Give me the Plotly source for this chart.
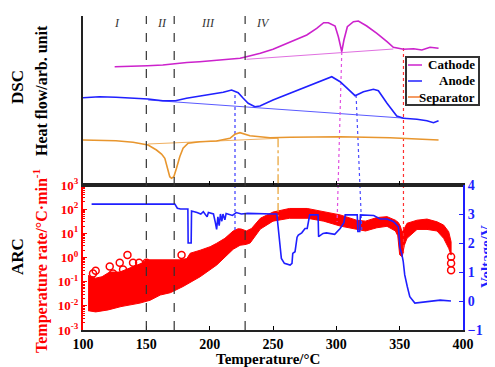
import plotly.graph_objects as go

# ---------------- DATA ----------------
# DSC (arbitrary heat-flow units)
cathode_T = [125, 135, 151, 163, 173, 182, 192, 203, 213.5, 224, 229, 240, 250, 263, 276.7, 284.5, 290, 293.7, 299, 301.6,
             304.3, 306, 308.7, 313.5, 317.4, 324, 332, 340, 345, 353, 361, 367.5, 374, 380.7]
cathode_h = [11.83, 11.85, 11.93, 12.0, 12.17, 12.25, 12.33, 12.45, 12.57, 12.67, 12.83, 13.17, 13.57, 14.23, 15.0, 15.67, 16.23,
             16.23, 15.9, 14.83, 13.33, 14.5, 15.83, 16.33, 16.4, 15.9, 15.17, 14.33, 13.77, 13.57, 13.63, 13.5, 13.77, 13.67]
cathode_base_T = [229, 345]
cathode_base_h = [12.57, 13.6]

anode_T = [100, 113, 126, 139.5, 151.4, 163, 173, 181.7, 192, 202.8, 210.7, 217.3, 222.5, 226.5, 230.4, 235.7, 239.7, 250,
           263.4, 276.6, 290, 296.4, 303, 308.2, 314.8, 321.4, 329.3, 333.2, 340, 347.7, 353, 363.6, 371.5, 376.7, 380.7]
anode_h = [8.73, 8.83, 8.77, 8.67, 8.6, 8.43, 8.43, 8.67, 8.9, 9.1, 9.27, 9.5, 9.23, 8.67, 8.17, 7.83, 7.9, 8.5,
           9.17, 9.9, 10.57, 10.83, 10.33, 9.67, 8.93, 9.33, 9.57, 9.43, 8.17, 6.9, 6.67, 6.57, 6.43, 6.23, 6.43]
anode_base_T = [151.4, 355]
anode_base_h = [8.5, 6.67]

separator_T = [100, 126, 139.5, 151.4, 158, 162, 164.6, 166.7, 168.5, 169.9, 171.7, 173.8, 176.4, 179, 183, 192.2, 205.4,
               216, 219.9, 223.9, 229, 231.8, 239.7, 247.6, 263.4, 303, 342.4, 380.7]
separator_h = [4.5, 4.43, 4.27, 4.0, 3.5, 3.1, 2.67, 1.67, 0.83, 0.67, 0.83, 1.67, 2.83, 3.67, 4.17, 4.33, 4.4,
               4.67, 5.07, 5.23, 5.0, 4.93, 4.83, 4.73, 4.77, 4.83, 4.73, 4.5]
separator_base_T = [151.4, 254]
separator_base_h = [4.1, 4.67]

# ARC self-heating rate (degC/min): envelope of the dense open-circle band
arc_upper_T = [104, 110, 115, 121, 129, 137, 147, 150, 176, 182, 184.6, 192.5, 200.4, 205.6, 212, 218.6, 222.5, 225,
               229, 233, 240, 250, 263, 277, 290, 303, 316, 323, 332, 340, 346.6, 349, 350.5, 352, 353.7, 355.8,
               363.7, 371.6, 379.5, 384.7, 388.7, 390.6]
arc_upper = [0.18, 0.14, 0.16, 0.25, 0.25, 0.36, 0.6, 0.8, 0.8, 0.9, 1.5, 2.0, 2.8, 3.9, 6.2, 12.6, 15.5, 15.0,
             12.6, 15.8, 42, 76, 107, 107, 79, 58, 35, 32, 45, 49, 35, 28, 20, 11, 16, 26,
             35, 39, 30, 22, 11.7, 4.5]
arc_lower_T = [104, 110, 120, 130, 145, 153, 161, 169, 179, 192.5, 205.6, 212, 218.6, 224, 229, 232, 240, 250, 263,
               277, 290, 303, 316, 323, 332, 340, 346.6, 348.5, 350, 352, 353.7, 355.8, 363.7, 371.6, 379.5, 384.7,
               388.7, 390.6]
arc_lower = [0.0063, 0.0056, 0.0068, 0.0093, 0.013, 0.017, 0.028, 0.035, 0.063, 0.16, 0.49, 1.0, 2.2, 3.2, 3.5, 4.0,
             15, 32, 42, 42, 32, 20, 14.5, 12.5, 17, 19.5, 12.5, 7.9, 1.3, 1.07, 3.2, 6.2, 14.5, 14.5, 12.5,
             6.2, 2.4, 1.26]
arc_circle_T = [107.9, 110, 121.1, 123.7, 129, 131.6, 135.1, 138.2, 139.5, 144.3, 146.2, 150.1, 177.8, 390.6, 390.6, 390.6]
arc_circle_rate = [0.22, 0.28, 0.42, 0.22, 0.61, 0.32, 1.26, 0.22, 0.61, 0.61, 0.30, 0.61, 1.26, 1.07, 0.58, 0.30]

# Cell voltage (V)
volt_T = [106.8, 172.5, 174.5, 177, 182.8, 183.0, 185.4, 185.7, 190, 193, 195, 198, 199, 203, 204.5, 205.5, 206.5,
          207.5, 208.5, 209.6, 210.5, 212, 213, 218, 221, 225, 230, 240, 250, 253, 254, 256.6, 259, 263.5, 265,
          265.6, 267.4, 269, 270, 272.7, 275.3, 277, 279, 285.6, 286, 289.5, 292.2, 298.7, 303, 306, 307, 316.5,
          317, 318.5, 319, 329.5, 334.7, 340, 345, 349, 350.3, 351.6, 352.8, 354, 356, 358, 362, 366, 371.6, 382, 390.5]
volt_V = [3.34, 3.34, 3.2, 3.17, 3.17, 2.0, 2.0, 3.1, 3.05, 3.0, 3.08, 2.9, 3.05, 3.0, 2.7, 2.47, 2.9,
          2.6, 3.0, 2.75, 3.0, 2.8, 3.02, 2.95, 3.05, 3.0, 3.02, 3.0, 3.0, 3.0, 2.5, 1.47, 1.3, 1.24, 1.3,
          1.64, 1.7, 2.2, 2.27, 2.35, 2.5, 2.5, 2.97, 2.97, 2.22, 2.33, 2.35, 2.3, 2.5, 2.7, 2.97, 2.97,
          2.4, 2.4, 2.97, 2.95, 2.83, 2.83, 2.74, 2.56, 1.82, 1.64, 1.37, 0.9, 0.5, 0.15, -0.07, -0.05, 0.0, 0.03, 0.0]

# Connectors between DSC features and ARC curve: (T at DSC, T at panel boundary, T at ARC)
conn_T_dsc = [220, 254, 304.3, 315.6, 353]
conn_T_mid = [220, 254, 301.4, 318.6, 353]
conn_T_arc = [220, 254, 300.6, 320.1, 353]
conn_h_dsc = [9.0, 4.67, 13.3, 9.0, 13.7]
conn_rate_arc = [11.2, 50, 30, 13.8, 1.5]
conn_colors = ["#3a3aff", "#e8a030", "#e050e0", "#4a4aff", "#ff3030"]
conn_dash = ["dot", "dashdot", "dot", "dot", "dot"]

region_bounds = [150, 172, 228]
region_labels = ["I", "II", "III", "IV"]
region_label_T = [127, 162, 199, 242]

legend_names = ["Cathode", "Anode", "Separator"]
legend_colors = ["#cc22cc", "#2020ff", "#f07a30"]

x_ticks = [100, 150, 200, 250, 300, 350, 400]
rate_tickvals = [1e-3, 1e-2, 1e-1, 1e0, 1e1, 1e2, 1e3]
rate_ticktext = ["10<sup>-3</sup>", "10<sup>-2</sup>", "10<sup>-1</sup>", "10<sup>0</sup>",
                 "10<sup>1</sup>", "10<sup>2</sup>", "10<sup>3</sup>"]

# ---------------- FIGURE ----------------
FONT = "Liberation Serif"
RED = "#ff0000"
BLUE = "#1f1fff"

fig = go.Figure()

# ARC band (fill between envelopes)
fig.add_trace(go.Scatter(
    x=arc_upper_T + arc_lower_T[::-1], y=arc_upper + arc_lower[::-1],
    mode="lines", fill="toself", fillcolor=RED, line=dict(color=RED, width=1),
    xaxis="x", yaxis="y", showlegend=False, hoverinfo="skip"))
fig.add_trace(go.Scatter(
    x=arc_circle_T, y=arc_circle_rate, mode="markers",
    marker=dict(symbol="circle-open", size=7, color=RED, line=dict(width=1.5, color=RED)),
    xaxis="x", yaxis="y", showlegend=False))

# connectors - ARC part
for i in range(len(conn_T_arc)):
    fig.add_trace(go.Scatter(
        x=[conn_T_mid[i], conn_T_arc[i]], y=[rate_tickvals[-1], conn_rate_arc[i]], mode="lines",
        line=dict(color=conn_colors[i], width=1.2, dash=conn_dash[i]),
        xaxis="x", yaxis="y", showlegend=False, hoverinfo="skip"))

# voltage
fig.add_trace(go.Scatter(x=volt_T, y=volt_V, mode="lines", line=dict(color=BLUE, width=1.6),
                         xaxis="x", yaxis="y3", showlegend=False))

# DSC part
fig.add_trace(go.Scatter(x=cathode_base_T, y=cathode_base_h, mode="lines",
                         line=dict(color="#e070e0", width=1), xaxis="x2", yaxis="y2", showlegend=False))
fig.add_trace(go.Scatter(x=anode_base_T, y=anode_base_h, mode="lines",
                         line=dict(color="#5a5aff", width=1), xaxis="x2", yaxis="y2", showlegend=False))
fig.add_trace(go.Scatter(x=separator_base_T, y=separator_base_h, mode="lines",
                         line=dict(color="#f0b060", width=1), xaxis="x2", yaxis="y2", showlegend=False))
for i in range(len(conn_T_dsc)):
    fig.add_trace(go.Scatter(
        x=[conn_T_dsc[i], conn_T_mid[i]], y=[conn_h_dsc[i], 0], mode="lines",
        line=dict(color=conn_colors[i], width=1.2, dash=conn_dash[i]),
        xaxis="x2", yaxis="y2", showlegend=False, hoverinfo="skip"))
fig.add_trace(go.Scatter(x=cathode_T, y=cathode_h, mode="lines", name="Cathode",
                         line=dict(color="#cc22cc", width=1.6), xaxis="x2", yaxis="y2", showlegend=False))
fig.add_trace(go.Scatter(x=anode_T, y=anode_h, mode="lines", name="Anode",
                         line=dict(color="#2020ff", width=1.6), xaxis="x2", yaxis="y2", showlegend=False))
fig.add_trace(go.Scatter(x=separator_T, y=separator_h, mode="lines", name="Separator",
                         line=dict(color="#e8962e", width=1.6), xaxis="x2", yaxis="y2", showlegend=False))

# geometry: page has an 8px body margin; plot area spans page px 83..463 x 16..330
OFF = 8
W, H = 495 - OFF, 367 - OFF
L, T, R, B = 83 - OFF, 16 - OFF, 32, 37
PW, PH = W - L - R, H - T - B
def px(xp):
    return (xp - 83) / PW
def py(yp):
    return (330 - yp) / PH

split = py(185)

shapes = []
for xb in region_bounds:
    shapes.append(dict(type="line", xref="x", yref="paper", x0=xb, x1=xb, y0=0, y1=1, layer="above",
                       line=dict(color="#333333", width=1.2, dash="dash")))
# manual legend
shapes.append(dict(type="rect", xref="paper", yref="paper", x0=px(406), x1=px(479), y0=py(105), y1=py(57),
                   line=dict(color="#333333", width=2), fillcolor="white", layer="above"))
leg_y = [65, 81, 97]
annotations = []
for name, col, yy in zip(legend_names, legend_colors, leg_y):
    shapes.append(dict(type="line", xref="paper", yref="paper", x0=px(408), x1=px(422), y0=py(yy), y1=py(yy),
                       line=dict(color=col, width=1.5), layer="above"))
    annotations.append(dict(text="<b>%s</b>" % name, xref="paper", yref="paper", x=px(477), y=py(yy),
                            xanchor="right", yanchor="middle", showarrow=False,
                            font=dict(family=FONT, size=13, color="black")))

for lab, tx in zip(region_labels, region_label_T):
    annotations.append(dict(text="<i>%s</i>" % lab, xref="x", yref="paper", x=tx, y=py(23), showarrow=False,
                            xanchor="center", yanchor="middle", font=dict(family=FONT, size=12, color="#333333")))

def vlabel(text, xp, yp, size, color):
    return dict(text="<b>%s</b>" % text, xref="paper", yref="paper", x=px(xp), y=py(yp), textangle=-90,
                showarrow=False, xanchor="center", yanchor="middle",
                font=dict(family=FONT, size=size, color=color))

annotations += [
    vlabel("DSC", 18, 87, 17, "black"),
    vlabel("Heat flow/arb. unit", 42, 91, 16, "black"),
    vlabel("ARC", 18, 257, 17, "black"),
    vlabel("Temperature rate/°C·min<sup>-1</sup>", 41, 261, 16, RED),
    vlabel("Voltage/V", 486, 257, 15, BLUE),
    dict(text="<b>Temperature/°C</b>", xref="paper", yref="paper", x=px(268), y=py(359), showarrow=False,
         xanchor="center", yanchor="middle", font=dict(family=FONT, size=15, color="black")),
]

minor_vals = [k * 10 ** e for e in range(-3, 3) for k in range(2, 10)]

fig.update_layout(
    width=W, height=H, margin=dict(l=L, r=R, t=T, b=B, pad=0, autoexpand=False),
    paper_bgcolor="white", plot_bgcolor="white",
    font=dict(family=FONT, size=14, color="black"),
    showlegend=False,
    xaxis=dict(domain=[0, 1], anchor="y", range=[100, 400], tickmode="array", tickvals=x_ticks,
               ticks="inside", ticklen=4, tickwidth=1.2, tickcolor="black", showline=True, linecolor="#222222",
               linewidth=1.6, mirror=True, showgrid=False, zeroline=False, automargin=False,
               tickfont=dict(family=FONT, size=14, color="black", weight="bold")),
    yaxis=dict(domain=[0, split], anchor="x", type="log", range=[-3, 3], tickmode="array",
               tickvals=rate_tickvals, ticktext=rate_ticktext, ticks="inside", ticklen=4, tickcolor=RED,
               showline=True, linecolor=RED, linewidth=2, showgrid=False, zeroline=False, automargin=False,
               tickfont=dict(family=FONT, size=13, color=RED, weight="bold"),
               minor=dict(tickvals=minor_vals, ticks="inside", ticklen=2, tickcolor=RED, showgrid=False)),
    yaxis3=dict(overlaying="y", anchor="x", side="right", range=[-1, 4], dtick=1, ticks="inside", ticklen=4,
                tickcolor=BLUE, showline=True, linecolor=BLUE, linewidth=2, showgrid=False, zeroline=False,
                automargin=False, tickfont=dict(family=FONT, size=14, color=BLUE, weight="bold")),
    xaxis2=dict(domain=[0, 1], anchor="y2", range=[100, 400], tickmode="array", tickvals=x_ticks,
                ticks="inside", ticklen=4, tickcolor="black", showticklabels=False, showline=True,
                linecolor="#222222", linewidth=1.6, showgrid=False, zeroline=False, automargin=False),
    yaxis2=dict(domain=[split, 1], anchor="x2", range=[0, 16.9], showticklabels=False, ticks="",
                showline=True, linecolor="#222222", linewidth=1.6, showgrid=False, zeroline=False,
                automargin=False),
    shapes=shapes, annotations=annotations,
)

fig.write_html("out.html")
